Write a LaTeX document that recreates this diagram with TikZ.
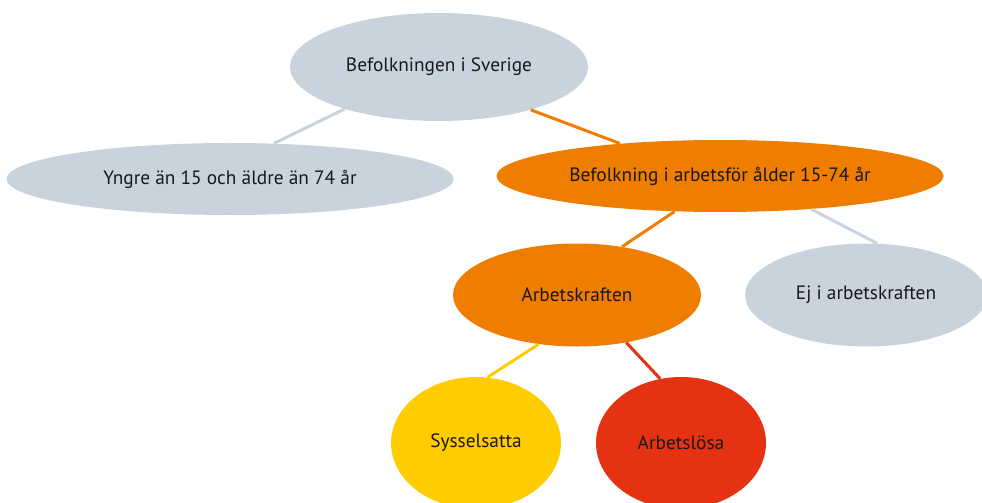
\documentclass[tikz,border=0pt]{standalone}
\usepackage{fontspec}
\setmainfont{PT Sans}
\usepackage{tikz}
\usetikzlibrary{shapes.geometric}
\definecolor{popgray}{HTML}{C8D3DE}
\definecolor{poporange}{HTML}{EF7D00}
\definecolor{popyellow}{HTML}{FFCC00}
\definecolor{popred}{HTML}{E53212}
\newcommand{\popfont}{\fontsize{11pt}{13pt}\selectfont}

\begin{document}
\begin{tikzpicture}[
  blob/.style={ellipse, inner sep=0pt, font=\popfont, text=black!90},
  link/.style={line width=1.7pt}]
\useasboundingbox (0, 0) rectangle (19.64, 10.04);
\node[blob, fill=popgray, minimum width=5.96cm, minimum height=2.16cm] (sverige) at (8.78, 8.70) {Befolkningen i Sverige};
\node[blob, fill=popgray, minimum width=8.94cm, minimum height=1.44cm] (yngre) at (4.60, 6.46) {Yngre än 15 och äldre än 74 år};
\node[blob, fill=poporange, minimum width=8.94cm, minimum height=1.44cm] (arbfor) at (14.40, 6.52) {Befolkning i arbetsför ålder 15-74 år};
\node[blob, fill=poporange, minimum width=4.96cm, minimum height=2.06cm] (kraft) at (11.54, 4.14) {Arbetskraften};
\node[blob, fill=popgray, minimum width=4.84cm, minimum height=2.06cm] (ejkraft) at (17.32, 4.14) {Ej i arbetskraften};
\node[blob, fill=popyellow, minimum width=3.40cm, minimum height=2.64cm] (syss) at (9.52, 1.18) {Sysselsatta};
\node[blob, fill=popred, minimum width=3.40cm, minimum height=2.64cm] (arbl) at (13.62, 1.18) {Arbetslösa};
\draw[link, popgray] (sverige.204) -- (yngre.39);
\draw[link, poporange] (sverige.-25) -- (arbfor.162);
\draw[link, poporange] (arbfor.218) -- (kraft.47);
\draw[link, popgray] (arbfor.-20) -- (ejkraft.78);
\draw[link, popyellow] (kraft.232) -- (syss.80);
\draw[link, popred] (kraft.-44) -- (arbl.108);
\end{tikzpicture}
\end{document}
